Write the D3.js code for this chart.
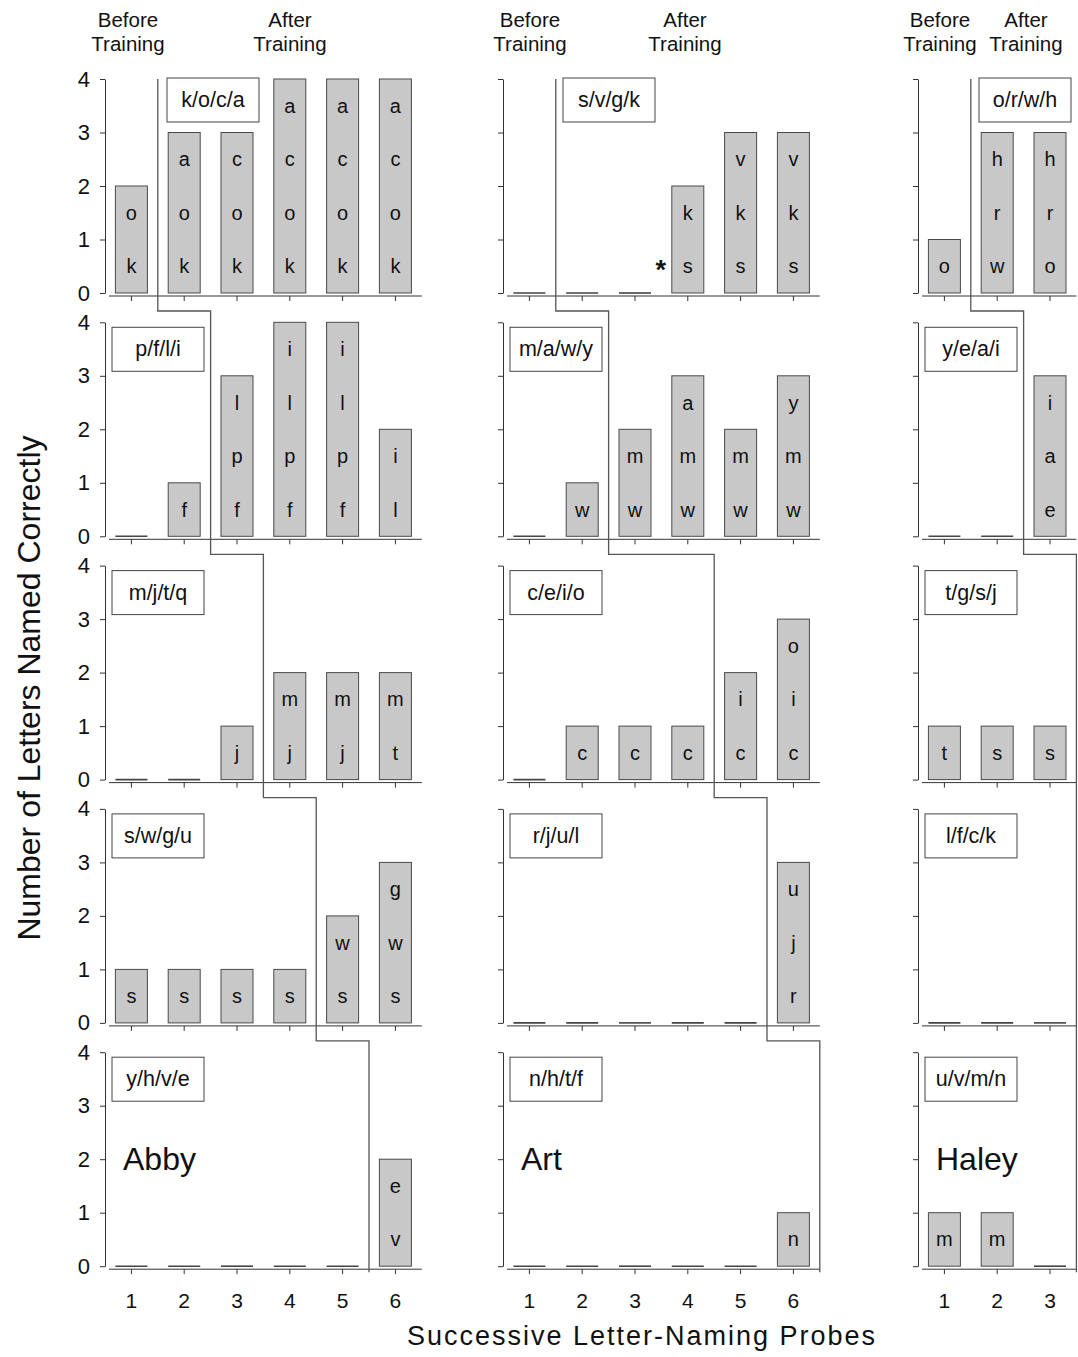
<!DOCTYPE html>
<html>
<head>
<meta charset="utf-8">
<script src="https://cdn.jsdelivr.net/npm/d3@7"></script>
<style>
  html, body { margin: 0; padding: 0; background: #fff; }
  svg { display: block; font-family: "Liberation Sans", Arial, sans-serif; }
  .axis path, .axis line { stroke: #333; }
  .axis text { fill: #111; font-family: "Liberation Sans", Arial, sans-serif; }
</style>
</head>
<body>
<div id="chart"></div>
<script>
/* 多基線字母命名探測 — 三位受試者，每人五組字母 */

const names = ["Abby", "Art", "Haley"];

// letter sets per row (top to bottom)
const abbySets = ["k/o/c/a", "p/f/l/i", "m/j/t/q", "s/w/g/u", "y/h/v/e"];
const artSets = ["s/v/g/k", "m/a/w/y", "c/e/i/o", "r/j/u/l", "n/h/t/f"];
const haleySets = ["o/r/w/h", "y/e/a/i", "t/g/s/j", "l/f/c/k", "u/v/m/n"];

// number of letters named correctly on each probe
const abbyCorrect = [[2, 3, 3, 4, 4, 4], [0, 1, 3, 4, 4, 2], [0, 0, 1, 2, 2, 2], [1, 1, 1, 1, 2, 3], [0, 0, 0, 0, 0, 2]];
const artCorrect = [[0, 0, 0, 2, 3, 3], [0, 1, 2, 3, 2, 3], [0, 1, 1, 1, 2, 3], [0, 0, 0, 0, 0, 3], [0, 0, 0, 0, 0, 1]];
const haleyCorrect = [[1, 3, 3], [0, 0, 3], [1, 1, 1], [0, 0, 0], [1, 1, 0]];

// which letters were named (bottom to top inside each bar)
const abbyLetters = [
  ["ko", "koa", "koc", "koca", "koca", "koca"],
  ["", "f", "fpl", "fpli", "fpli", "li"],
  ["", "", "j", "jm", "jm", "tm"],
  ["s", "s", "s", "s", "sw", "swg"],
  ["", "", "", "", "", "ve"]
];
const artLetters = [
  ["", "", "", "sk", "skv", "skv"],
  ["", "w", "wm", "wma", "wm", "wmy"],
  ["", "c", "c", "c", "ci", "cio"],
  ["", "", "", "", "", "rju"],
  ["", "", "", "", "", "n"]
];
const haleyLetters = [
  ["o", "wrh", "orh"],
  ["", "", "eai"],
  ["t", "s", "s"],
  ["", "", ""],
  ["m", "m", ""]
];

// probes before training (phase change comes after this probe)
const abbyPhase = [1, 2, 3, 4, 5];
const artPhase = [1, 2, 4, 5, 6];
const haleyPhase = [1, 2, 3, 3, 3];

const yTicks = [0, 1, 2, 3, 4];
const starMark = { who: 1, row: 0, probe: 4 };   // Art, first set, probe 4

const people = [
  { sets: abbySets, vals: abbyCorrect, lets: abbyLetters, phase: abbyPhase },
  { sets: artSets, vals: artCorrect, lets: artLetters, phase: artPhase },
  { sets: haleySets, vals: haleyCorrect, lets: haleyLetters, phase: haleyPhase }
];

/* 版面 */
const W = 1078, H = 1357;
const colX = [105, 503, 918];
const STEP = 52.8;
const Y0 = 293, ROWGAP = 243.3, PH = 214;
const headX = [[23, 185], [27, 182], [22, 108]];
const firstBoxX = [62, 60, 61];

const svg = d3.select("#chart").append("svg").attr("width", W).attr("height", H);

people.forEach((p, c) => {
  const n = p.vals[0].length;
  const x = d3.scaleBand().domain(d3.range(1, n + 1))
    .range([colX[c], colX[c] + n * STEP]).paddingInner(0.394).paddingOuter(0.197);
  const phasePts = [];

  p.vals.forEach((vals, r) => {
    const y0 = Y0 + r * ROWGAP;
    const y = d3.scaleLinear().domain([0, 4]).range([y0, y0 - PH]);
    const g = svg.append("g");

    // axes
    g.append("g").attr("class", "axis").attr("transform", `translate(${colX[c]},0)`)
      .call(d3.axisLeft(y).tickValues(yTicks).tickSizeInner(5).tickSizeOuter(0).tickPadding(10)
        .tickFormat(c === 0 ? d3.format("d") : () => ""))
      .call(a => a.selectAll("text").attr("font-size", 22));
    const gx = g.append("g").attr("class", "axis").attr("transform", `translate(0,${y0 + 3})`)
      .call(d3.axisBottom(x).tickSizeInner(5).tickSizeOuter(0).tickPadding(19)
        .tickFormat(r === 4 ? d => d : () => ""));
    gx.select(".domain").attr("d", `M${colX[c] + 4},0H${colX[c] + n * STEP}`);
    gx.selectAll("text").attr("font-size", 21);

    // bars
    const bw = x.bandwidth();
    g.append("g").selectAll("rect").data(vals.map((v, i) => ({ v, i })).filter(d => d.v > 0)).join("rect")
      .attr("x", d => x(d.i + 1)).attr("width", bw)
      .attr("y", d => y(d.v)).attr("height", d => y(0) - y(d.v))
      .attr("fill", "#c8c8c8").attr("stroke", "#4a4a4a").attr("stroke-width", 1);
    g.append("g").selectAll("line").data(vals.map((v, i) => ({ v, i })).filter(d => d.v === 0)).join("line")
      .attr("x1", d => x(d.i + 1)).attr("x2", d => x(d.i + 1) + bw)
      .attr("y1", y(0)).attr("y2", y(0))
      .attr("stroke", "#444").attr("stroke-width", 1.6);

    // letters inside bars
    p.lets[r].forEach((s, i) => {
      s.split("").forEach((ch, j) => {
        g.append("text").attr("x", x(i + 1) + bw / 2).attr("y", y(j + 0.5))
          .attr("text-anchor", "middle").attr("dominant-baseline", "central")
          .attr("font-size", 20).attr("fill", "#111").text(ch);
      });
    });

    // letter set box
    const bx = colX[c] + (r === 0 ? firstBoxX[c] : 7);
    const by = r === 0 ? y(4) - 1 : y(4) + 5;
    g.append("rect").attr("x", bx).attr("y", by).attr("width", 92).attr("height", 44)
      .attr("fill", "#fff").attr("stroke", "#444").attr("stroke-width", 1);
    g.append("text").attr("x", bx + 46).attr("y", by + 22)
      .attr("text-anchor", "middle").attr("dominant-baseline", "central")
      .attr("font-size", 21.5).attr("fill", "#111").text(p.sets[r]);

    // phase change line
    const px = colX[c] + p.phase[r] * STEP;
    phasePts.push([px, r === 0 ? y(4) : Y0 + (r - 1) * ROWGAP + 18]);
    phasePts.push([px, r === 4 ? y0 + 6 : y0 + 18]);

    if (starMark.who === c && starMark.row === r) {
      g.append("text").attr("x", x(starMark.probe) - 11).attr("y", y(0.5) + 13)
        .attr("text-anchor", "middle").attr("font-size", 27).attr("font-weight", "bold")
        .attr("fill", "#111").text("*");
    }
  });

  svg.append("path").attr("d", d3.line()(phasePts))
    .attr("fill", "none").attr("stroke", "#555").attr("stroke-width", 1.3);

  // name
  svg.append("text").attr("x", colX[c] + 18).attr("y", Y0 + 4 * ROWGAP - 96)
    .attr("font-size", 32).attr("fill", "#111").text(names[c]);

  // phase headers
  [["Before", "Training"], ["After", "Training"]].forEach((lines, k) => {
    lines.forEach((t, j) => {
      svg.append("text").attr("x", colX[c] + headX[c][k]).attr("y", 27 + j * 24)
        .attr("text-anchor", "middle").attr("font-size", 20.5).attr("fill", "#111").text(t);
    });
  });
});

// axis titles
svg.append("text").attr("transform", "translate(40,688) rotate(-90)")
  .attr("text-anchor", "middle").attr("font-size", 32).attr("fill", "#111")
  .text("Number of Letters Named Correctly");
svg.append("text").attr("x", 642).attr("y", 1345)
  .attr("text-anchor", "middle").attr("font-size", 27).attr("letter-spacing", 2).attr("fill", "#111")
  .text("Successive Letter-Naming Probes");
</script>
</body>
</html>
